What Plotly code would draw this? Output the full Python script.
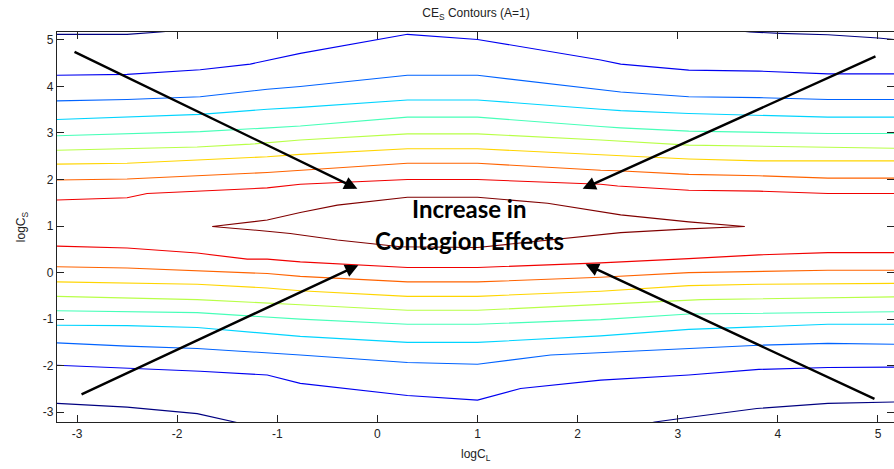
import plotly.graph_objects as go

# ---------------- data ----------------
title_text = "CE<sub>S</sub> Contours (A=1)"
x_label = "logC<sub>L</sub>"
y_label = "logC<sub>S</sub>"
tick_vals = [-3, -2, -1, 0, 1, 2, 3, 4, 5]
tick_text = ["-3", "-2", "-1", "0", "1", "2", "3", "4", "5"]
n_levels = 10

# contour polylines (level index 0 = lowest, 9 = highest)
c01_lvl = 0
c01_x = [-3.2, -2.5, -2.17, -1.8, None, 3.6, 3.72, 4.02, 4.5, 5.0, 5.2]
c01_y = [5.12, 5.12, 5.17, 5.25, None, 5.2, 5.17, 5.14, 5.11, 5.04, 5.0]

c02_lvl = 1
c02_x = [-3.2, -2.5, -1.77, -1.27, -0.77, 0.0, 0.3, 1.0, 2.23, 2.43, 3.11, 3.81, 4.5, 5.2]
c02_y = [4.24, 4.26, 4.36, 4.48, 4.71, 5.01, 5.12, 5.01, 4.57, 4.48, 4.35, 4.33, 4.27, 4.27]

c03_lvl = 2
c03_x = [-3.2, -2.5, -1.77, -1.1, -0.77, 0.3, 1.0, 2.23, 2.43, 3.11, 3.81, 4.5, 5.2]
c03_y = [3.69, 3.72, 3.78, 3.94, 4.0, 4.24, 4.24, 3.94, 3.88, 3.78, 3.76, 3.72, 3.72]

c04_lvl = 3
c04_x = [-3.2, -1.77, -1.1, -0.77, 0.3, 1.0, 2.23, 2.43, 3.11, 3.81, 4.5, 5.2]
c04_y = [3.29, 3.40, 3.51, 3.55, 3.71, 3.71, 3.51, 3.48, 3.42, 3.38, 3.34, 3.34]

c05_lvl = 4
c05_x = [-3.2, -1.77, -1.17, -0.77, 0.3, 1.0, 2.23, 2.43, 3.11, 3.81, 4.5, 5.2]
c05_y = [2.94, 3.03, 3.10, 3.15, 3.34, 3.34, 3.14, 3.11, 3.04, 3.01, 2.99, 2.99]

c06_lvl = 5
c06_x = [-3.2, -1.8, -1.27, -0.77, 0.3, 1.0, 2.23, 3.11, 5.2]
c06_y = [2.63, 2.70, 2.76, 2.85, 2.98, 2.98, 2.85, 2.74, 2.67]

c07_lvl = 6
c07_x = [-3.2, -2.5, -1.8, -1.1, -0.77, 0.3, 1.0, 2.23, 3.11, 3.81, 5.2]
c07_y = [2.33, 2.35, 2.42, 2.49, 2.54, 2.66, 2.66, 2.54, 2.44, 2.40, 2.40]

c08_lvl = 7
c08_x = [-3.2, -2.5, -1.1, -0.77, 0.3, 1.0, 1.7, 2.23, 2.4, 3.11, 3.81, 4.5, 5.2]
c08_y = [1.99, 2.01, 2.15, 2.20, 2.35, 2.35, 2.26, 2.20, 2.19, 2.11, 2.08, 2.03, 2.03]

c09_lvl = 8
c09_x = [-3.2, -2.5, -2.3, -1.1, -0.77, 0.3, 1.0, 1.7, 2.23, 2.4, 3.11, 3.81, 4.5, 5.2]
c09_y = [1.56, 1.61, 1.70, 1.82, 1.90, 2.0, 2.0, 1.95, 1.90, 1.86, 1.77, 1.75, 1.70, 1.70]

c10_lvl = 9
c10_x = [-1.65, -1.1, -0.77, -0.4, 0.3, 1.0, 1.7, 2.43, 3.11, 3.67,
         3.11, 2.43, 1.0, 0.23, -0.4, -0.87, -1.1, -1.65]
c10_y = [0.99, 1.13, 1.29, 1.45, 1.62, 1.62, 1.49, 1.24, 1.09, 0.99,
         0.94, 0.86, 0.54, 0.555, 0.70, 0.84, 0.89, 0.99]

c11_lvl = 8
c11_x = [-3.2, -2.5, -1.8, -1.3, -1.1, -0.77, 0.3, 1.0, 2.23, 2.4, 3.11, 3.81, 4.5, 5.2]
c11_y = [0.57, 0.53, 0.42, 0.29, 0.29, 0.23, 0.11, 0.11, 0.21, 0.23, 0.30, 0.38, 0.43, 0.43]

c12_lvl = 7
c12_x = [-3.2, -2.5, -1.1, -0.77, 0.3, 1.0, 2.23, 3.11, 4.5, 5.2]
c12_y = [0.125, 0.10, -0.02, -0.08, -0.20, -0.20, -0.10, 0.0, 0.05, 0.05]

c13_lvl = 6
c13_x = [-3.2, -2.5, -1.8, -1.1, -0.77, 0.3, 1.0, 2.23, 3.11, 3.81, 5.2]
c13_y = [-0.20, -0.22, -0.25, -0.33, -0.39, -0.51, -0.51, -0.40, -0.28, -0.25, -0.23]

c14_lvl = 5
c14_x = [-3.2, -1.8, -0.77, 0.3, 1.0, 2.23, 3.23, 5.2]
c14_y = [-0.51, -0.58, -0.69, -0.81, -0.81, -0.68, -0.58, -0.52]

c15_lvl = 4
c15_x = [-3.2, -1.8, -0.77, 0.3, 1.0, 2.23, 3.11, 5.2]
c15_y = [-0.82, -0.86, -1.0, -1.11, -1.11, -1.01, -0.89, -0.84]

c16_lvl = 3
c16_x = [-3.2, -2.5, -1.8, -1.1, -0.77, 0.3, 1.0, 2.23, 3.11, 4.5, 5.2]
c16_y = [-1.13, -1.14, -1.18, -1.31, -1.37, -1.50, -1.50, -1.36, -1.22, -1.11, -1.11]

c17_lvl = 2
c17_x = [-3.2, -2.5, -1.8, -1.1, -0.77, 0.3, 1.0, 1.73, 2.23, 3.11, 3.81, 4.5, 5.2]
c17_y = [-1.51, -1.58, -1.63, -1.72, -1.77, -1.93, -1.97, -1.77, -1.72, -1.62, -1.56, -1.52, -1.54]

c18_lvl = 1
c18_x = [-3.2, -1.77, -1.1, -0.77, 0.3, 1.0, 1.43, 1.73, 2.23, 3.11, 3.81, 4.5, 5.2]
c18_y = [-1.99, -2.12, -2.20, -2.38, -2.64, -2.74, -2.49, -2.42, -2.31, -2.20, -2.08, -2.04, -2.03]

c19_lvl = 0
c19_x = [-3.2, -2.5, -1.8, -1.43, -1.2, None, 2.6, 2.77, 3.01, 3.79, 4.5, 5.2]
c19_y = [-2.81, -2.89, -3.03, -3.21, -3.32, None, -3.3, -3.21, -3.14, -2.92, -2.81, -2.78]

# annotation arrows: tail (x, y) -> head (x, y), in data units
arrow_tail_x = [-3.04, 4.99, -2.97, 4.98]
arrow_tail_y = [4.76, 4.66, -2.63, -2.73]
arrow_head_x = [-0.20, 2.05, -0.19, 2.08]
arrow_head_y = [1.80, 1.80, 0.16, 0.18]

label_lines = ["Increase in", "Contagion Effects"]
label_x = [0.92, 0.92]
label_y = [1.38, 0.70]

# ---------------- style ----------------
def jet(t):
    def c(v):
        return max(0.0, min(1.0, v))
    r = c(1.5 - abs(4 * t - 3))
    g = c(1.5 - abs(4 * t - 2))
    b = c(1.5 - abs(4 * t - 1))
    return "rgb(%d,%d,%d)" % (round(r * 255), round(g * 255), round(b * 255))

contours = [
    (c01_lvl, c01_x, c01_y), (c02_lvl, c02_x, c02_y), (c03_lvl, c03_x, c03_y),
    (c04_lvl, c04_x, c04_y), (c05_lvl, c05_x, c05_y), (c06_lvl, c06_x, c06_y),
    (c07_lvl, c07_x, c07_y), (c08_lvl, c08_x, c08_y), (c09_lvl, c09_x, c09_y),
    (c10_lvl, c10_x, c10_y), (c11_lvl, c11_x, c11_y), (c12_lvl, c12_x, c12_y),
    (c13_lvl, c13_x, c13_y), (c14_lvl, c14_x, c14_y), (c15_lvl, c15_x, c15_y),
    (c16_lvl, c16_x, c16_y), (c17_lvl, c17_x, c17_y), (c18_lvl, c18_x, c18_y),
    (c19_lvl, c19_x, c19_y),
]

fig = go.Figure()
for lvl, xs, ys in contours:
    fig.add_trace(go.Scatter(
        x=xs, y=ys, mode="lines",
        line=dict(color=jet(lvl / (n_levels - 1)), width=1.1),
        hoverinfo="skip", showlegend=False,
    ))
# dummy trace for the right-hand tick axis
fig.add_trace(go.Scatter(x=[None], y=[None], yaxis="y2", showlegend=False, hoverinfo="skip"))

axis_font = dict(family="Liberation Sans, Arial, sans-serif", size=12, color="#222")
x_range = [-3.2, 5.16]
y_range = [-3.21, 5.17]

# plot area in pixels: left 57, right 894, top 32, bottom 422
PL, PR, PT, PB = 57, 894, 32, 422

fig.update_layout(
    width=894, height=469,
    margin=dict(l=PL, r=894 - PR, t=PT, b=469 - PB),
    paper_bgcolor="white", plot_bgcolor="white",
    showlegend=False,
    title=dict(text=title_text, x=476 / 894, xanchor="center", y=1 - 13 / 469,
               yanchor="middle", font=dict(family="Liberation Sans, Arial, sans-serif",
                                           size=12, color="#222")),
    xaxis=dict(range=x_range, tickvals=tick_vals, ticktext=tick_text,
               ticks="inside", ticklen=7, tickcolor="#222", tickwidth=1,
               showline=True, linecolor="#222", linewidth=1.2, mirror="ticks",
               showgrid=False, zeroline=False, tickfont=axis_font),
    yaxis=dict(range=y_range, tickvals=tick_vals, ticktext=tick_text,
               ticks="inside", ticklen=7, tickcolor="#222", tickwidth=1,
               showline=True, linecolor="#222", linewidth=1.2, mirror=False,
               showgrid=False, zeroline=False, tickfont=axis_font,
               title=dict(text=y_label, font=axis_font, standoff=14)),
    yaxis2=dict(range=y_range, tickvals=tick_vals, overlaying="y", side="right",
                anchor="x", ticks="inside", ticklen=7, tickcolor="#222",
                showticklabels=False, showline=False, showgrid=False, zeroline=False),
)

annotations = []
for tx, ty, hx, hy in zip(arrow_tail_x, arrow_tail_y, arrow_head_x, arrow_head_y):
    annotations.append(dict(
        x=hx, y=hy, ax=tx, ay=ty, xref="x", yref="y", axref="x", ayref="y",
        text="", showarrow=True, arrowhead=2, arrowsize=1.1, arrowwidth=2.4,
        arrowcolor="black",
    ))
for txt, lx, ly in zip(label_lines, label_x, label_y):
    annotations.append(dict(
        x=lx, y=ly, xref="x", yref="y", text="<b>%s</b>" % txt, showarrow=False,
        font=dict(family="Lato, Carlito, sans-serif", size=24, color="black"),
        xanchor="center", yanchor="middle",
    ))
annotations.append(dict(
    x=(476 - PL) / (PR - PL), y=(PB - 455) / (PB - PT), xref="paper", yref="paper",
    text=x_label, showarrow=False, xanchor="center", yanchor="middle", font=axis_font,
))
fig.update_layout(annotations=annotations)

fig.write_html("out.html")
